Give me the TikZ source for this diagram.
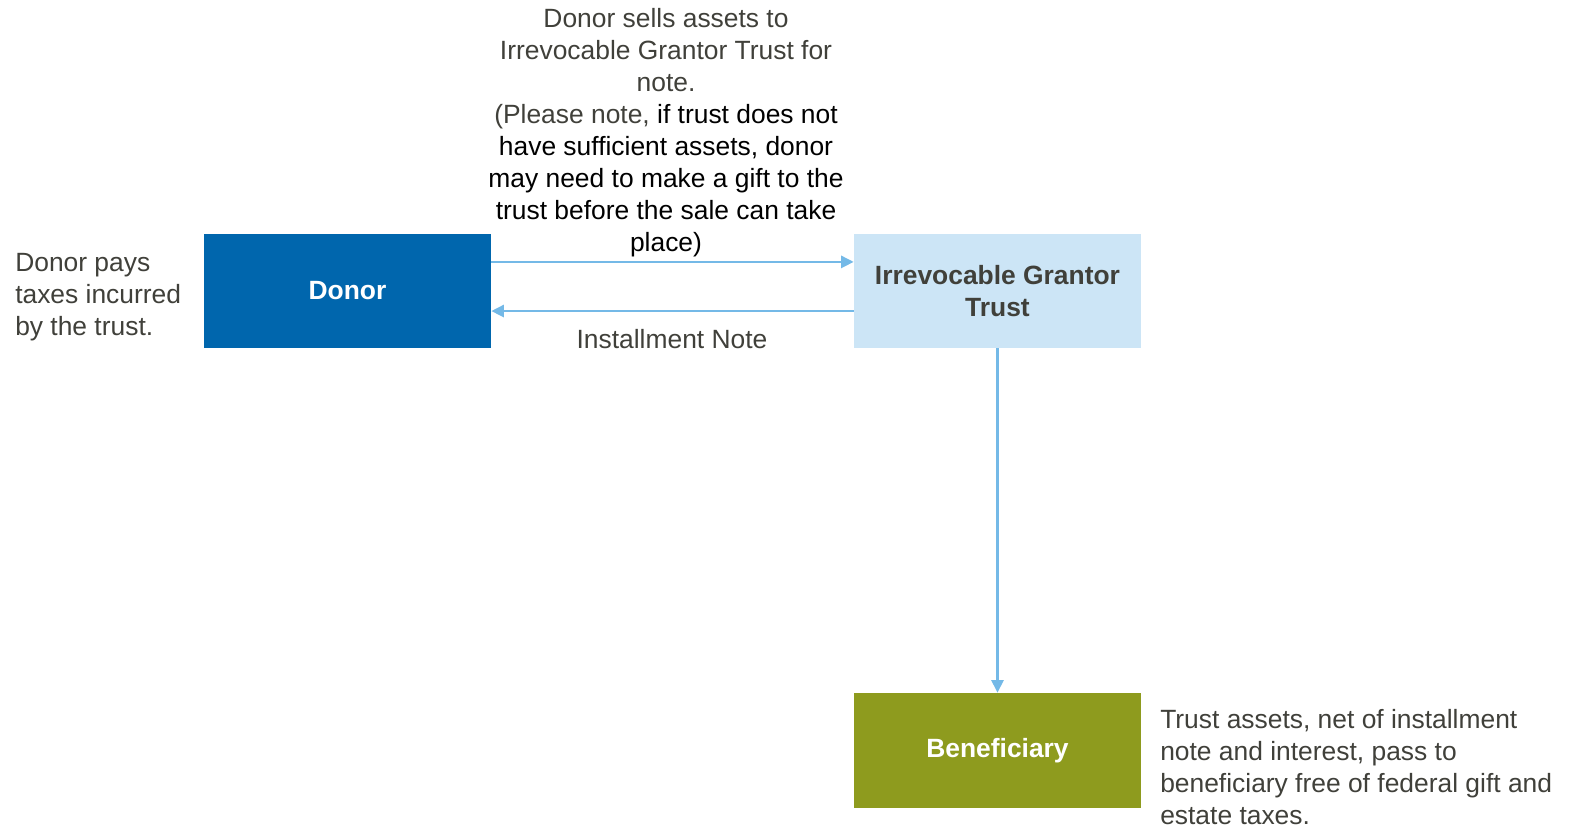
\documentclass[tikz,border=0pt]{standalone}
\usepackage{fontspec}
\setmainfont{Liberation Sans}
\usetikzlibrary{arrows.meta,calc}
\definecolor{donorblue}{HTML}{0066AD}
\definecolor{trustblue}{HTML}{CCE5F6}
\definecolor{benolive}{HTML}{8E9B1E}
\definecolor{arrowblue}{HTML}{74B9E7}
\definecolor{txtgray}{HTML}{40403A}
\tikzset{
  box/.style={draw=none, minimum width=287*0.75pt, minimum height=114*0.75pt, inner sep=0pt, font=\fontsize{19.8}{24}\selectfont\bfseries, align=center},
  note/.style={inner sep=0pt, font=\fontsize{19.8}{24}\selectfont, text=txtgray},
  arr/.style={draw=arrowblue, line width=2.1pt, -{Triangle[length=9.5pt,width=9pt]}}
}
\begin{document}
\begin{tikzpicture}[x=0.75pt,y=-0.75pt]
\useasboundingbox (0,0) rectangle (1570,828);
\node[box, fill=donorblue, text=white] (donor) at (347.5,291) {Donor};
\node[box, fill=trustblue, text=txtgray] (trust) at (997.5,291) {Irrevocable Grantor\\Trust};
\node[box, fill=benolive, text=white, minimum height=115*0.75pt] (ben) at (997.5,750.5) {Beneficiary};

\node[note, align=center, anchor=north] (sale) at (666,8) {Donor sells assets to\\Irrevocable Grantor Trust for\\note.\\(Please note, {\color{black}if trust does not}\\{\color{black}have sufficient assets, donor}\\{\color{black}may need to make a gift to the}\\{\color{black}trust before the sale can take}\\{\color{black}place)}};
\node[note, align=left, anchor=north west] (taxes) at (15,253) {Donor pays\\taxes incurred\\by the trust.};
\node[note, anchor=base] (inst) at (672,348) {Installment Note};
\node[note, align=left, anchor=north west] (pass) at (1160,709) {Trust assets, net of installment\\note and interest, pass to\\beneficiary free of federal gift and\\estate taxes.};

\draw[arr] ($(donor.north east)!0.246!(donor.south east)$) -- ($(trust.north west)!0.246!(trust.south west)$);
\draw[arr] ($(trust.north west)!0.675!(trust.south west)$) -- ($(donor.north east)!0.675!(donor.south east)$);
\draw[arr] (trust.south) -- (ben.north);
\end{tikzpicture}
\end{document}
